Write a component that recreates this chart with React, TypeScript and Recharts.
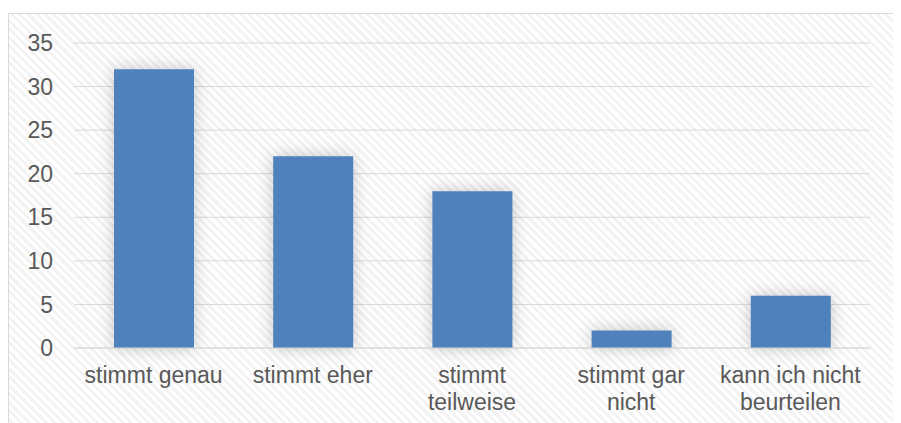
import React from 'react';
import { BarChart, Bar, XAxis, YAxis, CartesianGrid } from 'recharts';

const categories = ['stimmt genau', 'stimmt eher', 'stimmt\nteilweise', 'stimmt gar\nnicht', 'kann ich nicht\nbeurteilen'];
const counts = [32, 22, 18, 2, 6];
const yTicks = [0, 5, 10, 15, 20, 25, 30, 35];

const data = categories.map((name, i) => ({ name, value: counts[i] }));

const FONT = '"Liberation Sans", Arial, sans-serif';
const TEXT = '#595959';

const CategoryTick = ({ x, y, payload }: { x?: number; y?: number; payload?: { value: string } }) => {
  const lines = String(payload?.value ?? '').split('\n');
  return (
    <text x={x} y={y} textAnchor="middle" fill={TEXT} fontSize={23} fontFamily={FONT}>
      {lines.map((line) => (
        <tspan key={line} x={x} dy={27}>
          {line}
        </tspan>
      ))}
    </text>
  );
};

export default function App() {
  return (
    <div
      style={{
        width: 887,
        height: 420,
        marginTop: 5,
        border: '1px solid #D9D9D9',
        background: 'repeating-linear-gradient(45deg, #FFFFFF 0px, #FFFFFF 3px, #F3F3F3 3px, #F3F3F3 6px)',
      }}
    >
      <style>{'.recharts-bar-rectangle path { filter: drop-shadow(0px 0px 8px rgba(0,0,0,0.22)); }'}</style>
      <BarChart width={887} height={420} data={data} margin={{ top: 29, right: 26, left: 0, bottom: 0 }}>
        <CartesianGrid vertical={false} stroke="#D9D9D9" />
        <XAxis
          dataKey="name"
          axisLine={{ stroke: '#D9D9D9' }}
          tickLine={false}
          interval={0}
          height={86}
          tick={<CategoryTick />}
        />
        <YAxis
          domain={[0, 35]}
          ticks={yTicks}
          width={65}
          axisLine={false}
          tickLine={false}
          tickMargin={15}
          tick={{ fill: TEXT, fontSize: 23, fontFamily: FONT }}
        />
        <Bar dataKey="value" fill="#4F81BD" barSize={80} isAnimationActive={false} />
      </BarChart>
    </div>
  );
}
